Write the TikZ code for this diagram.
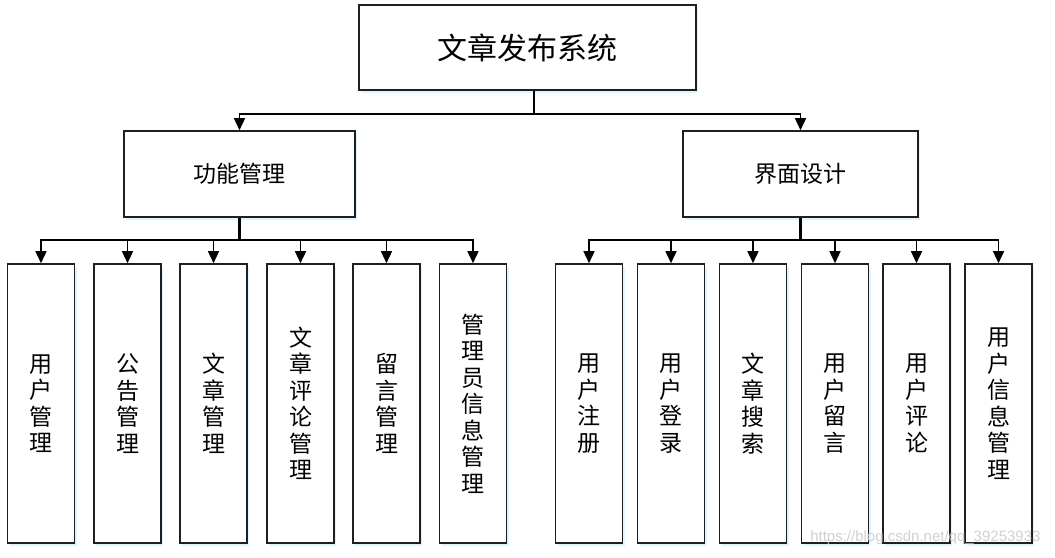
\documentclass[tikz,border=0pt]{standalone}
\usepackage{fontspec}
\setmainfont{Noto Sans CJK SC}
\newfontfamily\wmfont{Liberation Sans}
\usetikzlibrary{arrows.meta,shadows,calc}
\begin{document}
\begin{tikzpicture}[x=1pt,y=-1pt,
  box/.style={draw=black!88, line width=1.6pt, fill=white, inner sep=0pt, align=center,
    drop shadow={shadow xshift=2pt, shadow yshift=-3pt, fill=blue!25!cyan!20, opacity=0.7}},
  topbox/.style={box, minimum width=337pt, minimum height=85pt, font=\fontsize{30}{36}\selectfont},
  midbox/.style={box, minimum height=86pt, font=\fontsize{23}{28}\selectfont},
  leaf/.style={box, minimum width=67pt, minimum height=279pt, font=\fontsize{23}{26.5}\selectfont},
  conn/.style={draw=black, line width=1.5pt, -{Triangle[length=12pt,width=11pt]}},
  stem/.style={draw=black, line width=2.6pt},
  line/.style={draw=black, line width=1.5pt}
]
\useasboundingbox (0,0) rectangle (1055,557);

\node[topbox] (top) at (527.5,47.5) {文章发布系统};
\node[midbox, minimum width=231pt] (fm) at (239.5,174) {功能管理};
\node[midbox, minimum width=235pt] (ui) at (800.5,174) {界面设计};

\node[leaf] (a1) at (41,403.5) {用\\户\\管\\理};
\node[leaf] (a2) at (127.5,403.5) {公\\告\\管\\理};
\node[leaf] (a3) at (213.5,403.5) {文\\章\\管\\理};
\node[leaf] (a4) at (300.5,403.5) {文\\章\\评\\论\\管\\理};
\node[leaf] (a5) at (386.5,403.5) {留\\言\\管\\理};
\node[leaf] (a6) at (473,403.5) {管\\理\\员\\信\\息\\管\\理};

\node[leaf] (b1) at (589,403.5) {用\\户\\注\\册};
\node[leaf] (b2) at (671,403.5) {用\\户\\登\\录};
\node[leaf] (b3) at (753,403.5) {文\\章\\搜\\索};
\node[leaf] (b4) at (835,403.5) {用\\户\\留\\言};
\node[leaf] (b5) at (916.5,403.5) {用\\户\\评\\论};
\node[leaf] (b6) at (998.5,403.5) {用\\户\\信\\息\\管\\理};

% top level connectors
\coordinate (j0) at (534,114);
\draw[line] (top.south -| j0) -- (j0);
\draw[conn] (j0) -| (fm.north);
\draw[conn] (j0) -| (ui.north);

% left branch
\coordinate (jl) at (239.5,240);
\draw[stem] (fm.south) -- (jl);
\foreach \n in {a1,a2,a3,a4,a5,a6} {
  \draw[conn] (jl) -| (\n.north);
}
% right branch
\coordinate (jr) at (800.5,240);
\draw[stem] (ui.south) -- (jr);
\foreach \n in {b1,b2,b3,b4,b5,b6} {
  \draw[conn] (jr) -| (\n.north);
}

\node[text=gray!45, opacity=0.8, font=\wmfont\fontsize{15}{18}\selectfont, anchor=east] (wm) at (1044,538) {https://blog.csdn.net/qq\_39253933};
\end{tikzpicture}
\end{document}
